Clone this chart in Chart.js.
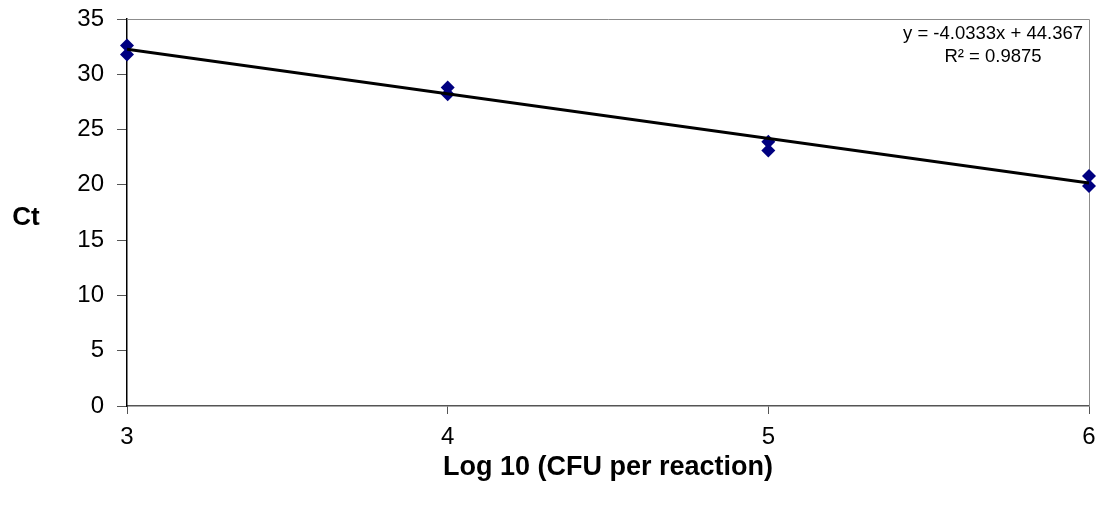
<!DOCTYPE html>
<html>
<head>
<meta charset="utf-8">
<script src="https://cdn.jsdelivr.net/npm/chart.js@4"></script>
<style>
  body { margin: 0; background: #fff; }
</style>
</head>
<body>
<canvas id="ctChart" width="1109" height="508"></canvas>
<script>
// Messwerte (Log10 CFU pro Reaktion gegen Ct)
const logCfu = [3, 3, 4, 4, 5, 5, 6, 6];
const ctValues = [32.6, 31.8, 28.8, 28.2, 23.9, 23.1, 20.8, 19.9];
const xTicks = [3, 4, 5, 6];
const yTicks = [0, 5, 10, 15, 20, 25, 30, 35];
// Trendlinie aus der Gleichung im Bild
const trendSlope = -4.0333;
const trendIntercept = 44.367;
const rSquared = 0.9875;

const FONT = "'Liberation Sans', Arial, sans-serif";

const trendX = [xTicks[0], xTicks[xTicks.length - 1]];
const trendPoints = trendX.map(x => ({ x: x, y: trendSlope * x + trendIntercept }));

// Rahmen oben/rechts, Achsentitel "Ct" und Gleichung
const extras = {
    id: 'extras',
    beforeDatasetsDraw(chart) {
        const { ctx, chartArea: a } = chart;
        ctx.save();
        ctx.strokeStyle = '#8c8c8c';
        ctx.lineWidth = 1;
        ctx.beginPath();
        ctx.moveTo(a.left, a.top + 0.5);
        ctx.lineTo(a.right + 0.5, a.top + 0.5);
        ctx.lineTo(a.right + 0.5, a.bottom);
        ctx.stroke();
        ctx.restore();
    },
    afterDraw(chart) {
        const { ctx, chartArea: a } = chart;
        ctx.save();
        ctx.fillStyle = '#000';
        ctx.font = "bold 26px " + FONT;
        ctx.textAlign = 'center';
        ctx.textBaseline = 'middle';
        ctx.fillText('Ct', 26, 218);

        const eq = 'y = ' + trendSlope + 'x + ' + trendIntercept;
        ctx.font = "18.5px " + FONT;
        ctx.textAlign = 'right';
        const w = ctx.measureText(eq).width;
        const right = a.right - 6;
        ctx.fillText(eq, right, 34);
        ctx.textAlign = 'center';
        ctx.fillText('R\u00B2 = ' + rSquared, right - w / 2, 57);
        ctx.restore();
    }
};

document.addEventListener("DOMContentLoaded", function () {
    const ctx = document.getElementById('ctChart').getContext('2d');

    new Chart(ctx, {
        type: 'scatter',
        data: {
            datasets: [
                {
                    label: 'Trend',
                    type: 'line',
                    data: trendPoints,
                    borderColor: '#000',
                    borderWidth: 3,
                    pointRadius: 0,
                    fill: false,
                    order: 0
                },
                {
                    label: 'Ct',
                    data: logCfu.map((x, i) => ({ x: x, y: ctValues[i] })),
                    pointStyle: 'rectRot',
                    pointRadius: 7,
                    pointHoverRadius: 7,
                    backgroundColor: '#000080',
                    borderColor: '#000080',
                    borderWidth: 0,
                    clip: false,
                    order: 1
                }
            ]
        },
        options: {
            responsive: false,
            animation: false,
            layout: { padding: { left: 0, right: 20, top: 19, bottom: 0 } },
            plugins: {
                legend: { display: false },
                tooltip: { enabled: false }
            },
            scales: {
                x: {
                    type: 'linear',
                    min: 3,
                    max: 6,
                    afterBuildTicks: s => { s.ticks = xTicks.map(v => ({ value: v })); },
                    afterFit: s => { s.height = 102; s.paddingLeft = 0; s.paddingRight = 0; },
                    grid: { drawOnChartArea: false, tickLength: 8, color: '#555' },
                    border: { color: '#555', width: 1.5 },
                    ticks: { color: '#000', padding: 9, font: { family: FONT, size: 24 } },
                    title: {
                        display: true,
                        text: 'Log 10 (CFU per reaction)',
                        color: '#000',
                        font: { family: FONT, size: 27, weight: 'bold' },
                        padding: { top: 0, bottom: 24 }
                    }
                },
                y: {
                    min: 0,
                    max: 35,
                    afterBuildTicks: s => { s.ticks = yTicks.map(v => ({ value: v })); },
                    afterFit: s => { s.width = 127; s.paddingTop = 0; s.paddingBottom = 0; },
                    grid: { drawOnChartArea: false, tickLength: 10, color: '#555' },
                    border: { color: '#000', width: 1.5 },
                    ticks: { color: '#000', padding: 13, font: { family: FONT, size: 24 } }
                }
            }
        },
        plugins: [extras]
    });
});
</script>
</body>
</html>
